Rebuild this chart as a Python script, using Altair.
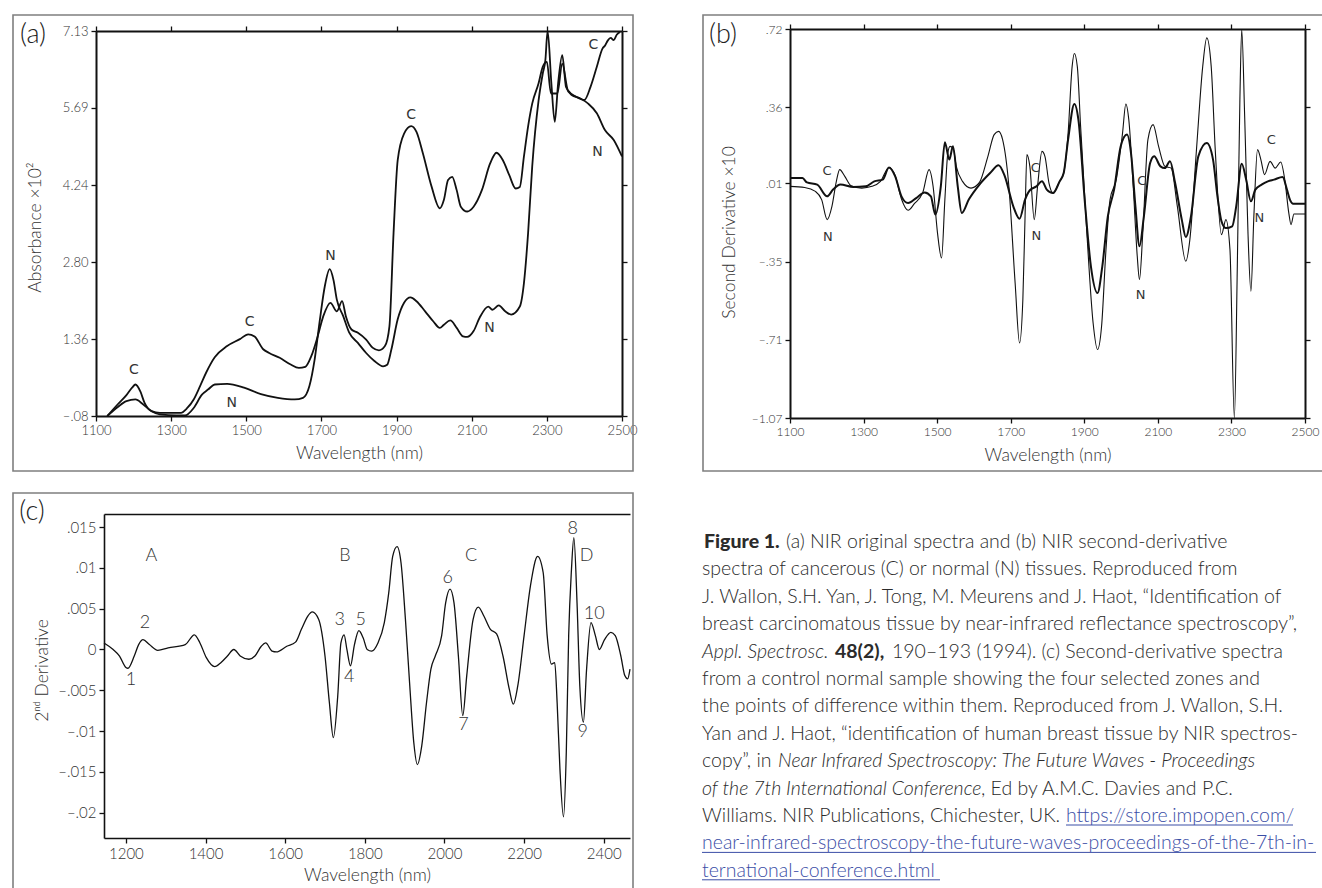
import altair as alt
import pandas as pd

W, H = 1322, 888
FONT = "Lato"

# ---------------- panel (a): original spectra ----------------
a_c_nm = [1130, 1158, 1181, 1196, 1205, 1218, 1229, 1248, 1270, 1326, 1343, 1360, 1377, 1393, 1416, 1449,
          1483, 1505, 1522, 1545, 1561, 1589, 1617, 1640, 1657, 1673, 1690, 1705, 1724, 1741, 1755, 1765,
          1780, 1797, 1819, 1836, 1853, 1869, 1881, 1892, 1903, 1920, 1939, 1953, 1970, 1993, 2015, 2026,
          2037, 2048, 2060, 2071, 2088, 2105, 2127, 2149, 2166, 2183, 2200, 2217, 2228, 2239, 2250, 2261,
          2278, 2289, 2300, 2311, 2328, 2341, 2356, 2378, 2400, 2416, 2433, 2448, 2455, 2462, 2470, 2478,
          2486, 2495]
a_c_val = [-0.08, 0.14, 0.31, 0.45, 0.51, 0.38, 0.17, 0.01, -0.02, -0.02, 0.07, 0.23, 0.48, 0.73, 1.02, 1.23,
           1.36, 1.45, 1.41, 1.17, 1.10, 1.01, 0.89, 0.82, 0.84, 1.04, 1.41, 1.79, 2.04, 1.88, 2.07, 1.79,
           1.54, 1.48, 1.35, 1.20, 1.15, 1.23, 1.60, 3.35, 4.71, 5.21, 5.35, 5.24, 4.84, 4.22, 3.81, 3.97,
           4.34, 4.40, 4.15, 3.84, 3.75, 3.84, 4.15, 4.65, 4.85, 4.71, 4.43, 4.18, 4.21, 4.78, 5.34, 5.77,
           6.15, 6.46, 6.55, 5.96, 5.96, 6.52, 6.02, 5.90, 5.84, 6.08, 6.46, 6.80, 6.86, 6.95, 7.00, 6.96,
           7.06, 7.11]
a_n_nm = [1130, 1158, 1181, 1205, 1225, 1248, 1270, 1315, 1337, 1360, 1382, 1399, 1416, 1449, 1494, 1539,
          1584, 1629, 1651, 1668, 1682, 1696, 1709, 1722, 1732, 1741, 1758, 1774, 1797, 1819, 1841, 1864,
          1875, 1886, 1903, 1920, 1937, 1953, 1976, 1998, 2015, 2026, 2043, 2060, 2077, 2088, 2105, 2121,
          2144, 2155, 2172, 2189, 2205, 2228, 2239, 2250, 2261, 2278, 2289, 2296, 2302, 2312, 2321, 2330,
          2341, 2351, 2366, 2388, 2410, 2433, 2455, 2478, 2500]
a_n_val = [-0.08, 0.09, 0.20, 0.23, 0.14, 0.01, -0.05, -0.07, -0.07, 0.07, 0.32, 0.42, 0.51, 0.52, 0.45, 0.33,
           0.26, 0.23, 0.26, 0.48, 0.98, 1.73, 2.35, 2.67, 2.47, 2.10, 1.79, 1.48, 1.29, 1.10, 0.95, 0.85,
           0.88, 1.16, 1.73, 2.04, 2.14, 2.07, 1.88, 1.69, 1.57, 1.63, 1.71, 1.57, 1.41, 1.40, 1.51, 1.76,
           1.97, 1.91, 1.99, 1.88, 1.82, 1.97, 2.41, 3.34, 4.59, 5.83, 6.33, 6.58, 7.13, 6.15, 5.43, 6.15,
           6.68, 6.08, 5.93, 5.87, 5.77, 5.59, 5.27, 5.09, 4.78]
a_lab_text = ["C", "N", "C", "N", "C", "N", "C", "N"]
a_lab_nm = [1201, 1461, 1509, 1724, 1939, 2147, 2424, 2435]
a_lab_val = [0.79, 0.16, 1.68, 2.92, 5.55, 1.57, 6.87, 4.87]
a_yticks = [-0.08, 1.36, 2.80, 4.24, 5.69, 7.13]
ab_xticks = [1100, 1300, 1500, 1700, 1900, 2100, 2300, 2500]

# ---------------- panel (b): second derivative ----------------
b_thin_nm = [1100, 1140, 1169, 1186, 1201, 1214, 1226, 1235, 1249, 1266, 1295, 1323, 1346, 1369, 1386, 1403,
             1421, 1438, 1461, 1478, 1489, 1501, 1512, 1521, 1529, 1535, 1543, 1552, 1569, 1592, 1615, 1638,
             1655, 1667, 1678, 1695, 1712, 1724, 1733, 1739, 1744, 1752, 1764, 1773, 1785, 1793, 1804, 1815,
             1833, 1844, 1856, 1867, 1873, 1881, 1890, 1907, 1924, 1936, 1947, 1959, 1970, 1987, 2004, 2013,
             2021, 2033, 2044, 2050, 2059, 2073, 2087, 2102, 2119, 2136, 2153, 2176, 2187, 2205, 2222, 2233,
             2245, 2256, 2273, 2285, 2296, 2308, 2316, 2323, 2328, 2336, 2345, 2353, 2361, 2371, 2380, 2390,
             2405, 2419, 2434, 2445, 2456, 2462, 2470, 2500]
b_thin_val = [-0.004, -0.009, -0.027, -0.065, -0.157, -0.096, 0.019, 0.073, 0.042, -0.001, -0.012, -0.004,
              0.019, 0.083, 0.045, -0.062, -0.114, -0.084, -0.032, 0.073, -0.004, -0.219, -0.334, -0.065,
              0.149, 0.180, 0.172, 0.088, 0.019, -0.012, 0.014, 0.134, 0.234, 0.249, 0.211, -0.004, -0.449,
              -0.725, -0.525, -0.142, 0.142, 0.088, -0.157, -0.004, 0.157, 0.134, 0.011, -0.035, 0.019, 0.057,
              0.241, 0.548, 0.607, 0.548, 0.272, -0.219, -0.633, -0.755, -0.648, -0.295, -0.065, 0.027, 0.241,
              0.375, 0.303, -0.004, -0.326, -0.433, -0.219, 0.211, 0.280, 0.180, 0.088, 0.080, -0.096, -0.349,
              -0.249, 0.165, 0.548, 0.679, 0.548, 0.165, -0.226, -0.157, -0.295, -1.07, -0.372, 0.395, 0.717,
              0.318, -0.219, -0.487, -0.142, 0.165, 0.119, 0.050, 0.111, 0.080, 0.108, 0.027, -0.127, -0.180,
              -0.131, -0.131]
b_thick_nm = [1100, 1134, 1146, 1174, 1201, 1217, 1237, 1272, 1306, 1329, 1352, 1369, 1386, 1403, 1421, 1443,
              1466, 1483, 1495, 1510, 1521, 1533, 1543, 1556, 1567, 1586, 1615, 1644, 1667, 1684, 1707, 1724,
              1739, 1752, 1770, 1785, 1798, 1815, 1833, 1844, 1856, 1873, 1884, 1901, 1918, 1936, 1949, 1964,
              1981, 1999, 2016, 2027, 2039, 2050, 2062, 2079, 2090, 2107, 2119, 2133, 2147, 2165, 2176, 2190,
              2210, 2233, 2250, 2262, 2273, 2285, 2302, 2313, 2328, 2340, 2353, 2365, 2382, 2399, 2416, 2439,
              2451, 2459, 2468, 2500]
b_thick_val = [0.034, 0.034, 0.014, 0.004, -0.050, -0.019, 0.004, -0.007, -0.004, 0.019, 0.027, 0.083, 0.042,
               -0.050, -0.081, -0.058, -0.032, -0.050, -0.134, -0.004, 0.199, 0.119, 0.180, -0.004, -0.127,
               -0.065, 0.004, 0.057, 0.093, 0.042, -0.096, -0.153, -0.065, -0.022, -0.004, 0.019, -0.019,
               -0.035, 0.019, 0.057, 0.211, 0.375, 0.303, -0.065, -0.372, -0.495, -0.372, -0.142, -0.019,
               0.180, 0.234, 0.149, -0.096, -0.280, -0.142, 0.103, 0.134, 0.088, 0.080, 0.111, 0.011, -0.157,
               -0.237, -0.142, 0.134, 0.195, 0.119, -0.050, -0.165, -0.196, -0.188, -0.096, 0.100, 0.027,
               -0.073, -0.019, 0.004, 0.019, 0.027, 0.039, -0.019, -0.065, -0.084, -0.084]
b_lab_text = ["C", "N", "C", "N", "C", "N", "C", "N"]
b_lab_nm = [1201, 1203, 1767, 1770, 2056, 2053, 2408, 2376]
b_lab_val = [0.065, -0.237, 0.080, -0.234, 0.022, -0.502, 0.208, -0.150]
b_yticks = [0.72, 0.36, 0.01, -0.35, -0.71, -1.07]

# ---------------- panel (c): control normal sample ----------------
c_nm = [1145, 1168, 1184, 1200, 1205, 1221, 1232, 1243, 1259, 1280, 1306, 1349, 1372, 1386, 1402, 1423, 1439,
        1455, 1471, 1487, 1509, 1524, 1540, 1551, 1567, 1578, 1604, 1626, 1641, 1657, 1668, 1684, 1700, 1711,
        1721, 1732, 1740, 1748, 1755, 1764, 1774, 1785, 1796, 1806, 1817, 1833, 1849, 1860, 1870, 1881, 1891,
        1902, 1913, 1923, 1932, 1943, 1955, 1966, 1977, 1993, 2003, 2014, 2024, 2035, 2046, 2056, 2072, 2085,
        2099, 2115, 2131, 2147, 2163, 2173, 2184, 2200, 2216, 2234, 2248, 2258, 2269, 2277, 2283, 2290, 2299,
        2306, 2312, 2319, 2325, 2333, 2340, 2349, 2357, 2368, 2379, 2389, 2402, 2418, 2429, 2443, 2453, 2460,
        2466]
c_val = [0.0008, 0.0000, -0.0008, -0.0022, -0.0023, -0.0008, 0.0006, 0.0012, 0.0006, -0.0001, 0.0002, 0.0006,
         0.0018, 0.0008, -0.0010, -0.0021, -0.0016, -0.0008, 0.0000, -0.0008, -0.0012, -0.0008, 0.0004, 0.0008,
         -0.0002, -0.0003, 0.0004, 0.0009, 0.0025, 0.0041, 0.0046, 0.0037, -0.0008, -0.0065, -0.0108, -0.0057,
         0.0008, 0.0018, 0.0000, -0.0020, 0.0006, 0.0023, 0.0014, 0.0000, -0.0002, 0.0008, 0.0033, 0.0069,
         0.0114, 0.0126, 0.0106, 0.0037, -0.0045, -0.0114, -0.0141, -0.0118, -0.0065, -0.0024, -0.0008, 0.0017,
         0.0057, 0.0074, 0.0057, -0.0008, -0.0081, -0.0032, 0.0037, 0.0052, 0.0041, 0.0025, 0.0019, -0.0008,
         -0.0049, -0.0067, -0.0045, 0.0017, 0.0078, 0.0114, 0.0094, 0.0017, -0.0018, -0.0016, -0.0065, -0.0146,
         -0.0205, -0.0126, 0.0017, 0.0098, 0.0137, 0.0057, -0.0045, -0.0089, -0.0024, 0.0033, 0.0017, 0.0000,
         0.0012, 0.0021, 0.0017, -0.0008, -0.0032, -0.0036, -0.0024]
c_lab_text = ["A", "B", "C", "D", "1", "2", "3", "4", "5", "6", "7", "8", "9", "10"]
c_lab_nm = [1264, 1750, 2067, 2357, 1213, 1248, 1737, 1761, 1790, 2008, 2048, 2322, 2347, 2376]
c_lab_val = [0.0115, 0.0115, 0.0115, 0.0115, -0.0037, 0.0033, 0.0036, -0.0034, 0.0036, 0.0087, -0.0093,
             0.0148, -0.0101, 0.0043]
c_yticks = [0.015, 0.01, 0.005, 0, -0.005, -0.01, -0.015, -0.02]
c_xticks = [1200, 1400, 1600, 1800, 2000, 2200, 2400]

# ---------------- caption ----------------
caption_lines = [
    [("Figure 1.", "bold"), ("(a) NIR original spectra and (b) NIR second-derivative", "normal")],
    [("spectra of cancerous (C) or normal (N) tissues. Reproduced from", "normal")],
    [("J. Wallon, S.H. Yan, J. Tong, M. Meurens and J. Haot, \u201cIdentification of", "normal")],
    [("breast carcinomatous tissue by near-infrared reflectance spectroscopy\u201d,", "normal")],
    [("Appl. Spectrosc.", "italic"), ("48(2),", "bold2"), ("190\u2013193 (1994). (c) Second-derivative spectra", "normal")],
    [("from a control normal sample showing the four selected zones and", "normal")],
    [("the points of difference within them. Reproduced from J. Wallon, S.H.", "normal")],
    [("Yan and J. Haot, \u201cidentification of human breast tissue by NIR spectros-", "normal")],
    [("copy\u201d, in", "normal"), ("Near Infrared Spectroscopy: The Future Waves - Proceedings", "italic")],
    [("of the 7th International Conference", "italic"), (", Ed by A.M.C. Davies and P.C.", "normal")],
    [("Williams. NIR Publications, Chichester, UK.", "normal"), ("https://store.impopen.com/", "link")],
    [("near-infrared-spectroscopy-the-future-waves-proceedings-of-the-7th-in-", "link")],
    [("ternational-conference.html", "link")],
]
# layout (pixels) of caption segments
seg_x = [[704, 786], [702], [702], [702], [702, 835, 892], [702], [702], [702], [702, 778], [702, 981],
         [702, 1066], [702], [702]]
cap_y0, cap_dy, cap_size = 548, 27.4, 19.5

one = pd.DataFrame({"k": [0]})
INK = "#111111"
GRAY = "#333333"


def num_expr(dec):
    return ("(datum.value < 0 ? '\u2013' : '') + (abs(datum.value) < 1 ? "
            f"slice(format(abs(datum.value), '.{dec}f'), 1) : format(abs(datum.value), '.{dec}f'))")


c_expr = ("datum.value == 0 ? '0' : (datum.value < 0 ? '\u2013' : '') + "
          "slice(format(abs(datum.value), '.3~f'), 1)")


def lin(dom, rng):
    return alt.Scale(domain=dom, range=rng, nice=False, zero=False)


def panel(lines, labels, dom_x, rng_x, dom_y, rng_y, xticks, yticks, yexpr, xtitle, ytitle,
          lab_size, tick_size, ytitle_pos, frame_top_ticks=True, frame_right=True,
          axis_w=2.0, lab_font="DejaVu Sans", lab_weight="normal"):
    sx = lin(dom_x, rng_x)
    sy = lin(dom_y, rng_y)
    common = dict(labelFont=FONT, labelFontWeight=300, labelFontSize=tick_size, labelColor=GRAY,
                  tickColor=INK, domainColor=INK, domainWidth=axis_w, tickWidth=1.3, grid=False,
                  labelFlush=False, labelOverlap=False, titleFont=FONT, titleFontWeight=300,
                  titleFontSize=17.5, titleColor=GRAY)
    x_ax = alt.Axis(orient="bottom", offset=rng_y[0] - H, values=xticks, format="d", tickSize=5,
                    labelPadding=3, title=xtitle, titleX=(rng_x[0] + rng_x[1]) / 2, titleY=37,
                    titleBaseline="middle", titleAlign="center", **common)
    y_ax = alt.Axis(orient="left", offset=-rng_x[0], values=yticks, labelExpr=yexpr, tickSize=5,
                    labelPadding=3, title=ytitle, titleX=ytitle_pos[0] - rng_x[0], titleY=ytitle_pos[1],
                    titleAngle=-90, titleBaseline="middle", titleAlign="center", **common)
    layers = []
    first = True
    for df, sw in lines:
        layers.append(
            alt.Chart(df).mark_line(color=INK, strokeWidth=sw, interpolate="monotone", clip=False).encode(
                x=alt.X("nm:Q", scale=sx, axis=x_ax if first else None),
                y=alt.Y("val:Q", scale=sy, axis=y_ax if first else None),
            )
        )
        first = False
    # frame: top and right axes
    top_ax = alt.Axis(orient="top", offset=-rng_y[1], values=xticks, labels=False, title=None,
                      ticks=frame_top_ticks, tickSize=5, tickColor=INK, domainColor=INK,
                      domainWidth=axis_w, tickWidth=1.3, grid=False)
    right_ax = (alt.Axis(orient="right", offset=rng_x[1] - W, values=yticks, labels=False, title=None,
                         tickSize=5, tickColor=INK, domainColor=INK, domainWidth=axis_w, tickWidth=1.3,
                         grid=False) if frame_right else None)
    layers.append(
        alt.Chart(lines[0][0]).mark_line(opacity=0).encode(
            x=alt.X("nm:Q", scale=sx, axis=top_ax),
            y=alt.Y("val:Q", scale=sy, axis=right_ax),
        )
    )
    layers.append(
        alt.Chart(labels).mark_text(font=lab_font, fontSize=lab_size, fontWeight=lab_weight,
                                    color=GRAY).encode(
            x=alt.X("nm:Q", scale=sx, axis=None),
            y=alt.Y("val:Q", scale=sy, axis=None),
            text="lab:N",
        )
    )
    return layers


df_a_c = pd.DataFrame({"nm": a_c_nm, "val": a_c_val})
df_a_n = pd.DataFrame({"nm": a_n_nm, "val": a_n_val})
df_a_lab = pd.DataFrame({"nm": a_lab_nm, "val": a_lab_val, "lab": a_lab_text})
df_b_thin = pd.DataFrame({"nm": b_thin_nm, "val": b_thin_val})
df_b_thick = pd.DataFrame({"nm": b_thick_nm, "val": b_thick_val})
df_b_lab = pd.DataFrame({"nm": b_lab_nm, "val": b_lab_val, "lab": b_lab_text})
df_c = pd.DataFrame({"nm": c_nm, "val": c_val})
df_c_lab = pd.DataFrame({"nm": c_lab_nm, "val": c_lab_val, "lab": c_lab_text})

layers = []

# outer panel boxes
for (x0, y0, x1, y1) in [(13, 15, 633, 471), (703, 15, 1340, 471), (13, 493, 633, 920)]:
    layers.append(
        alt.Chart(one).mark_rect(fillOpacity=0, stroke="#7f7f7f", strokeWidth=1.6).encode(
            x=alt.value(x0), x2=alt.value(x1), y=alt.value(y0), y2=alt.value(y1)
        )
    )

layers += panel([(df_a_c, 1.8), (df_a_n, 1.8)], df_a_lab, [1100, 2500], [96, 622], [-0.08, 7.13], [416, 31],
                ab_xticks, a_yticks, num_expr(2), "Wavelength (nm)", "Absorbance \u00d710\u00b2",
                14, 13, (35, 227))
layers += panel([(df_b_thin, 1.1), (df_b_thick, 2.0)], df_b_lab, [1100, 2500], [790, 1305], [-1.07, 0.72],
                [418, 29], ab_xticks, b_yticks, num_expr(2), "Wavelength (nm)", "Second Derivative \u00d710",
                13, 12, (729, 232))
layers += panel([(df_c, 1.3)], df_c_lab, [1145, 2466], [104, 630], [-0.0231, 0.0166], [838, 514],
                c_xticks, c_yticks, c_expr, "Wavelength (nm)", "2\u207f\u1d48 Derivative",
                18, 15, (42, 670), frame_top_ticks=False, frame_right=False, axis_w=1.6,
                lab_font=FONT, lab_weight=300)

# panel letters
for txt, px, py in [("(a)", 33, 35), ("(b)", 723, 35), ("(c)", 32, 512)]:
    layers.append(
        alt.Chart(one).mark_text(text=txt, font=FONT, fontWeight=300, fontSize=27, color="#222",
                                 align="center", baseline="middle").encode(x=alt.value(px), y=alt.value(py))
    )

# caption
style_map = {
    "normal": dict(fontWeight=300, fontStyle="normal", color="#2b2b2b"),
    "italic": dict(fontWeight=300, fontStyle="italic", color="#2b2b2b"),
    "bold": dict(fontWeight=900, fontStyle="normal", color="#2b2b2b"),
    "bold2": dict(fontWeight=700, fontStyle="normal", color="#2b2b2b"),
    "link": dict(fontWeight=300, fontStyle="normal", color="#3b4ea6"),
}
for i, segs in enumerate(caption_lines):
    yb = cap_y0 + cap_dy * i
    for (txt, st), sx_ in zip(segs, seg_x[i]):
        layers.append(
            alt.Chart(one).mark_text(text=txt, font=FONT, fontSize=cap_size, align="left",
                                     baseline="alphabetic", **style_map[st]).encode(
                x=alt.value(sx_), y=alt.value(yb))
        )
# link underlines
for (x0, x1, i) in [(1066, 1293, 10), (702, 1316, 11), (702, 940, 12)]:
    yb = cap_y0 + cap_dy * i + 3
    layers.append(
        alt.Chart(one).mark_rule(color="#3b4ea6", strokeWidth=1).encode(
            x=alt.value(x0), x2=alt.value(x1), y=alt.value(yb)
        )
    )

chart = (
    alt.layer(*layers)
    .resolve_scale(x="independent", y="independent")
    .resolve_axis(x="independent", y="independent")
    .properties(width=W, height=H, autosize=alt.AutoSizeParams(type="none"), padding=0)
    .configure_view(stroke=None)
)

chart.save("out.html", embed_options={"renderer": "svg", "actions": False})
